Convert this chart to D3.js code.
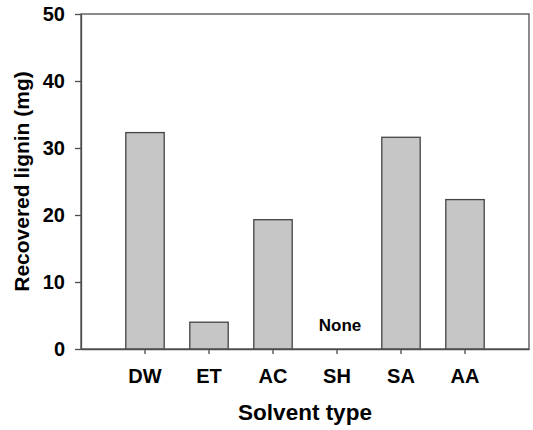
<!DOCTYPE html>
<html>
<head>
<meta charset="utf-8">
<script src="https://cdn.jsdelivr.net/npm/d3@7"></script>
<style>
  body { margin: 0; background: #fff; }
  svg { display: block; font-family: "Liberation Sans", Arial, sans-serif; font-weight: bold; }
</style>
</head>
<body>
<svg></svg>
<script>
const width = 533;
const height = 430;
const margin = { top: 14, right: 4, bottom: 81, left: 81 };

const solvents = ["DW", "ET", "AC", "SH", "SA", "AA"];
const lignin = [32.3, 4.0, 19.3, null, 31.6, 22.3];
const yTicks = [0, 10, 20, 30, 40, 50];
const emptyLabel = "None";

const svg = d3.select("svg")
    .attr("width", width)
    .attr("height", height);

const xScale = d3.scaleBand()
    .domain(solvents)
    .range([margin.left, width - margin.right])
    .paddingInner(0.4)
    .paddingOuter(0.7);

const yScale = d3.scaleLinear()
    .domain([0, 50])
    .range([height - margin.bottom, margin.top]);

// frame (top and right)
svg.append("rect")
    .attr("x", margin.left)
    .attr("y", margin.top)
    .attr("width", width - margin.right - margin.left)
    .attr("height", height - margin.bottom - margin.top)
    .attr("fill", "none")
    .attr("stroke", "#4d4d4d")
    .attr("stroke-width", 1.3);

const bars = solvents.map((s, i) => ({ solvent: s, value: lignin[i] }));

svg.selectAll(".bar")
    .data(bars.filter(d => d.value !== null))
    .enter()
    .append("rect")
    .attr("class", "bar")
    .attr("x", d => xScale(d.solvent))
    .attr("y", d => yScale(d.value))
    .attr("width", xScale.bandwidth())
    .attr("height", d => yScale(0) - yScale(d.value))
    .attr("fill", "#c6c6c6")
    .attr("stroke", "#444")
    .attr("stroke-width", 1.3);

// "None" marker for the empty bar
bars.filter(d => d.value === null).forEach(d => {
    svg.append("text")
        .attr("x", xScale(d.solvent) + xScale.bandwidth() / 2 + 3)
        .attr("y", yScale(0) - 18)
        .attr("text-anchor", "middle")
        .attr("font-size", 17)
        .attr("fill", "#000")
        .text(emptyLabel);
});

const xAxis = d3.axisBottom(xScale)
    .tickSize(5)
    .tickSizeOuter(0)
    .tickPadding(15);

const yAxis = d3.axisLeft(yScale)
    .tickValues(yTicks)
    .tickSize(6)
    .tickSizeOuter(0)
    .tickPadding(10);

const gx = svg.append("g")
    .attr("transform", `translate(0, ${height - margin.bottom})`)
    .call(xAxis);

const gy = svg.append("g")
    .attr("transform", `translate(${margin.left}, 0)`)
    .call(yAxis);

[gx, gy].forEach(g => {
    g.select(".domain").attr("stroke", "#4d4d4d").attr("stroke-width", 1.3);
    g.selectAll(".tick line").attr("stroke", "#4d4d4d").attr("stroke-width", 1.3);
    g.selectAll(".tick text")
        .attr("fill", "#000")
        .style("font-size", "20px")
        .style("font-weight", "bold")
        .style("font-family", "'Liberation Sans', Arial, sans-serif");
});

svg.append("text")
    .attr("x", (margin.left + width - margin.right) / 2)
    .attr("y", 420)
    .attr("text-anchor", "middle")
    .attr("font-size", 22.5)
    .text("Solvent type");

svg.append("text")
    .attr("transform", `translate(29, ${(margin.top + height - margin.bottom) / 2}) rotate(-90)`)
    .attr("text-anchor", "middle")
    .attr("font-size", 21)
    .text("Recovered lignin (mg)");
</script>
</body>
</html>
